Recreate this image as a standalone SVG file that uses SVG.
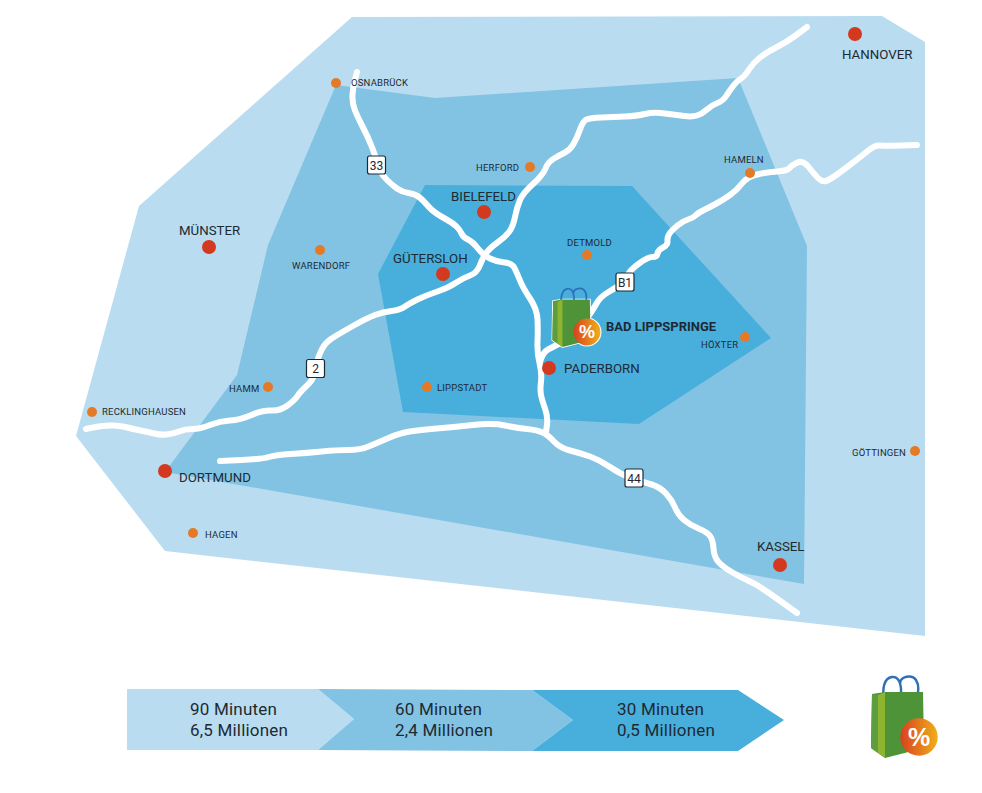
<svg xmlns="http://www.w3.org/2000/svg" width="982" height="793" viewBox="0 0 982 793">
<style>
text{font-family:"Roboto","Liberation Sans",sans-serif;fill:#1d2a33}
.road{fill:none;stroke:#fff;stroke-width:6;stroke-linecap:round;stroke-linejoin:round}
.big{font-size:13.3px}
.small{font-size:9.5px;letter-spacing:.2px}
.leg{font-size:17px;letter-spacing:.2px}
.sign{font-size:12px;text-anchor:middle}
.r{fill:#d2391f}.o{fill:#e47a26}
.signbox{fill:#fff;stroke:#1d2a33;stroke-width:1.2}
</style>
<defs>
<linearGradient id="g"><stop offset="0" stop-color="#d9401f"/><stop offset="1" stop-color="#efb01a"/></linearGradient>
<g id="bag">
<path d="M19 26C17 12 19 2 27 1C35 0 38 10 35 30M35 8C35 0 47 -2 51 4C55 10 53 20 51 27" transform="translate(-6,-1)" fill="none" stroke="#2f6fb5" stroke-width="2.4" stroke-linecap="round"/>
<path d="M1 17L14 15L52 15L53 71L14 81L0 71Z" fill="#4e9337"/>
<path d="M1 17L7 18L7 76L0 71Z" fill="#5c9d3e"/>
<path d="M7 18L14 15L14 81L7 76Z" fill="#8db52f"/>
<circle cx="48" cy="60" r="18.700" fill="url(#g)"/>
<text x="48" y="68.500" text-anchor="middle" style="font-family:'Liberation Sans',sans-serif;font-size:25px;font-weight:700;fill:#fff">%</text>
</g>
</defs>
<g id="zones">
<polygon id="zone90" points="352,17 882,16 925,42 925,636 165,551 76,436 139,206" fill="#b9dcf0"/>
<polygon id="zone60" points="336,85 435,98 738,78 807,246 804,584 165,472 237,375 268,245" fill="#82c3e3"/>
<polygon id="zone30" points="425,185 632,186 771,338 639,424 403,412 378,274" fill="#48afdd"/>
</g>
<g id="connectors">
<path class="road" d="M357 72L355 79.500Q353 87 352.500 95Q352 103 355 110.500Q358 118 363 127.500Q368 137 371.500 146Q375 155 376.500 160Q378 165 380 170Q382 175 387 180Q392 185 397 188.500Q402 192 408.500 193Q415 194 419 197Q423 200 428 206Q433 212 443 217.500Q453 223 456.500 226.500Q460 230 461.500 233.500Q463 237 468 239.500Q473 242 478 248.500Q483 255 490 258.500Q497 262 504.500 262.500Q512 263 514.500 268Q517 273 520 280.500Q523 288 530 298.500Q537 309 537.500 319.500Q538 330 537.500 341.500Q537 353 539.500 363Q542 373 541 381.500Q540 390 541 395Q542 400 545 408.500Q548 417 547 424.500L546 432"/>
<path class="road" d="M807 27L797 34.500Q787 42 777 47Q767 52 760 57.500Q753 63 749 69.500Q745 76 741 78.500Q737 81 733.500 85.500Q730 90 726.500 95.500Q723 101 717.500 103Q712 105 707 109.500Q702 114 697 115.500Q692 117 684.500 116Q677 115 665 113.500Q653 112 645 114Q637 116 625 116.500Q613 117 601.500 117.500Q590 118 586.500 119.500Q583 121 580 129.500Q577 138 573.500 144Q570 150 565 152.500Q560 155 554 158.500Q548 162 545.500 168.500Q543 175 533 184Q523 193 520 200Q517 207 515 217Q513 227 509 232Q505 237 497.500 242.500Q490 248 486.500 252.500Q483 257 480 265Q477 273 470 275.500Q463 278 455.500 283Q448 288 437.500 291.500Q427 295 418.500 299Q410 303 405 306.500Q400 310 391.500 311Q383 312 375 315Q367 318 352 326.500Q337 335 331 339Q325 343 321.500 350Q318 357 317 362.500Q316 368 314.500 374Q313 380 306.500 386Q300 392 297.500 396Q295 400 287.500 405.500Q280 411 271.500 410.500Q263 410 251.500 415Q240 420 230 420.500Q220 421 210 425Q200 429 192.500 429Q185 429 179 431.500Q173 434 166.500 434.500Q160 435 154 433.500Q148 432 140.500 430.500Q133 429 125.500 427Q118 425 109 425.500Q100 426 93 427.500L86 429"/>
<path class="road" d="M917 145L901 145.500Q885 146 880 145.500Q875 145 869 150Q863 155 846.500 167.500Q830 180 826 181Q822 182 818.500 178.500Q815 175 809 167.500Q803 160 797.500 162.500Q792 165 789.500 168Q787 171 777 171.500Q767 172 757 174.500Q747 177 742 183.500Q737 190 730 195Q723 200 716.500 203.500Q710 207 704 210Q698 213 695.500 215.500Q693 218 688 219.500Q683 221 677.500 225.500Q672 230 669.500 233.500Q667 237 667.500 241Q668 245 663 247.500Q658 250 657.500 253.500Q657 257 652.500 257Q648 257 639 263.500Q630 270 627.500 275.500Q625 281 621 284Q617 287 608.500 292Q600 297 596.500 303.500Q593 310 584 322.500Q575 335 564 341Q553 347 548 349.500Q543 352 540 362"/>
<path class="road" d="M220 461L241.500 460Q263 459 269 457Q275 455 291 454Q307 453 322 451.500Q337 450 348.500 450Q360 450 368.500 446.500Q377 443 388.500 438Q400 433 410 431.500Q420 430 436.500 428.500Q453 427 473 425Q493 423 505 425.500Q517 428 527 429Q537 430 542.500 432.500Q548 435 554 441.500Q560 448 570 450.500Q580 453 590 456.500Q600 460 610 467Q620 474 631.500 478Q643 482 651.500 484.500Q660 487 666 493.500Q672 500 675 507.500Q678 515 684 520Q690 525 698.500 528.500Q707 532 710 536Q713 540 713.500 548.500Q714 557 718.500 562Q723 567 732.500 572.500Q742 578 750 581.500Q758 585 777.500 599L797 613"/>
</g>
<g id="sign33"><rect class="signbox" x="367.500" y="156" width="18" height="18" rx="2"/><text class="sign" x="376.500" y="169.500">33</text></g>
<g id="signB1"><rect class="signbox" x="616" y="273" width="18" height="18" rx="2"/><text class="sign" x="625" y="286.500">B1</text></g>
<g id="sign2"><rect class="signbox" x="306.500" y="359.500" width="18" height="18" rx="2"/><text class="sign" x="315.500" y="373">2</text></g>
<g id="sign44"><rect class="signbox" x="625" y="469" width="18" height="18" rx="2"/><text class="sign" x="634" y="482.500">44</text></g>
<g id="hannover"><circle class="r" cx="855" cy="34" r="7"/><text class="big" x="842" y="59">HANNOVER</text></g>
<g id="osnabrueck"><circle class="o" cx="336" cy="83" r="5"/><text class="small" x="351" y="86">OSNABRÜCK</text></g>
<g id="herford"><circle class="o" cx="530" cy="167" r="5"/><text class="small" x="476" y="171">HERFORD</text></g>
<g id="hameln"><circle class="o" cx="750" cy="173" r="5"/><text class="small" x="724" y="163">HAMELN</text></g>
<g id="bielefeld"><circle class="r" cx="484" cy="212" r="7"/><text class="big" x="451" y="201">BIELEFELD</text></g>
<g id="muenster"><circle class="r" cx="209" cy="247" r="7"/><text class="big" x="179" y="235">MÜNSTER</text></g>
<g id="warendorf"><circle class="o" cx="320" cy="250" r="5"/><text class="small" x="292" y="269">WARENDORF</text></g>
<g id="detmold"><circle class="o" cx="587" cy="255" r="5"/><text class="small" x="567" y="246">DETMOLD</text></g>
<g id="guetersloh"><circle class="r" cx="443" cy="274" r="7"/><text class="big" x="393" y="263">GÜTERSLOH</text></g>
<g id="hoexter"><circle class="o" cx="745" cy="337" r="5"/><text class="small" x="701" y="348">HÖXTER</text></g>
<g id="paderborn"><circle class="r" cx="549" cy="368" r="7"/><text class="big" x="564" y="373">PADERBORN</text></g>
<g id="lippstadt"><circle class="o" cx="427" cy="387" r="5"/><text class="small" x="437" y="391">LIPPSTADT</text></g>
<g id="hamm"><circle class="o" cx="268" cy="387" r="5"/><text class="small" x="229" y="392">HAMM</text></g>
<g id="recklinghausen"><circle class="o" cx="92" cy="412" r="5"/><text class="small" x="102" y="415">RECKLINGHAUSEN</text></g>
<g id="goettingen"><circle class="o" cx="915" cy="451" r="5"/><text class="small" x="852" y="456">GÖTTINGEN</text></g>
<g id="dortmund"><circle class="r" cx="165" cy="471" r="7"/><text class="big" x="179" y="482">DORTMUND</text></g>
<g id="hagen"><circle class="o" cx="193" cy="533" r="5"/><text class="small" x="205" y="538">HAGEN</text></g>
<g id="kassel"><circle class="r" cx="780" cy="565" r="7"/><text class="big" x="757" y="551">KASSEL</text></g>
<g id="badlippspringe">
<g transform="translate(552.400,288.800) scale(.72)">
<path d="M1 17L14 15L52 15L53 71L14 81L0 71Z" fill="#fff" stroke="#fff" stroke-width="2.500"/>
<circle cx="48" cy="60" r="20.200" fill="#fff"/>
<use href="#bag"/>
</g>
<text x="606" y="331" style="font-size:13px;font-weight:700">BAD LIPPSPRINGE</text></g>
<g id="legend">
<polygon points="127,689 318,689 354,719 318,750 127,750" fill="#b9dcf0"/>
<polygon points="318,689 532,690 573,720 532,751 318,750 354,719" fill="#82c3e3"/>
<polygon points="532,690 738,690 784,720 738,751 532,751 573,720" fill="#48afdd"/>
<text class="leg" x="190" y="715">90 Minuten</text><text class="leg" x="190" y="736">6,5 Millionen</text>
<text class="leg" x="395" y="715">60 Minuten</text><text class="leg" x="395" y="736">2,4 Millionen</text>
<text class="leg" x="617" y="715">30 Minuten</text><text class="leg" x="617" y="736">0,5 Millionen</text>
</g>
<g id="legendbag"><use href="#bag" transform="translate(871,677)"/></g>
</svg>
